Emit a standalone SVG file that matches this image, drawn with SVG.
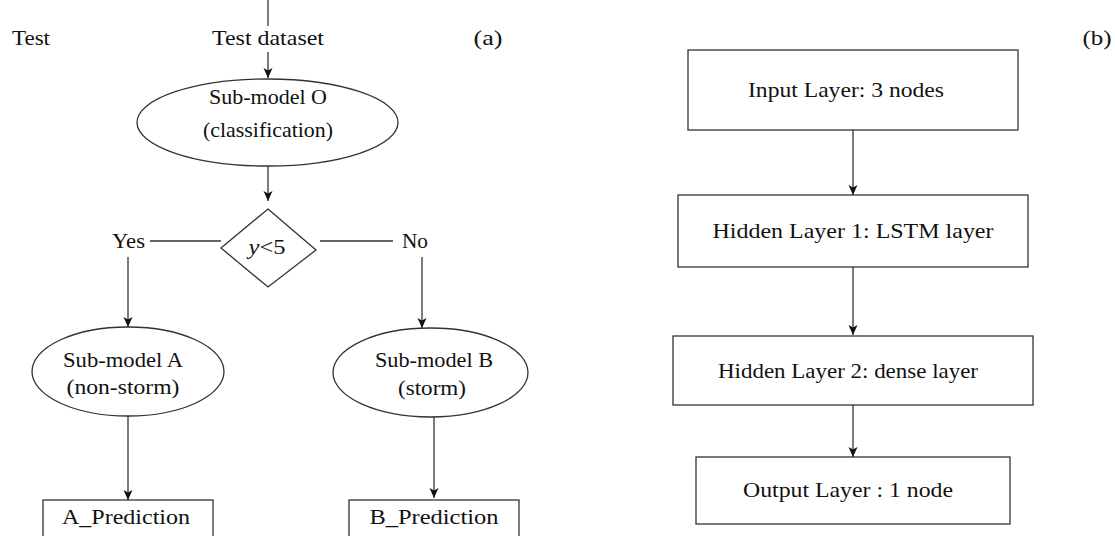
<svg xmlns="http://www.w3.org/2000/svg" width="1115" height="536" viewBox="0 0 1115 536">
<defs>
<marker id="arr" viewBox="0 0 10 10" refX="10" refY="5" markerWidth="10" markerHeight="10" markerUnits="userSpaceOnUse" orient="auto">
<path d="M0,0.5 L10,5 L0,9.5 L2.5,5 Z" fill="#111"/>
</marker>
<style>
.s{fill:none;stroke:#333;stroke-width:1.3}
.n{fill:#fff;stroke:#333;stroke-width:1.3}
.t{font-family:"Liberation Serif","Times New Roman",serif;font-size:21px;fill:#111;text-anchor:middle}
.r{font-family:"Liberation Serif","Times New Roman",serif;font-size:22px;fill:#111;text-anchor:middle}
.a{stroke:#333;stroke-width:1.3;fill:none;marker-end:url(#arr)}
</style>
</defs>
<rect width="1115" height="536" fill="#fff"/>
<g id="labels">
<text class="t" x="31" y="45" textLength="38" lengthAdjust="spacingAndGlyphs">Test</text>
<text class="t" x="268" y="45" textLength="112" lengthAdjust="spacingAndGlyphs">Test dataset</text>
<text class="t" x="488" y="45" textLength="29" lengthAdjust="spacingAndGlyphs">(a)</text>
<text class="t" x="1097" y="45" textLength="29" lengthAdjust="spacingAndGlyphs">(b)</text>
</g>
<g id="connectors">
<line class="s" x1="268" y1="0" x2="268" y2="26"/>
<line class="a" x1="268" y1="52" x2="268" y2="78"/>
<line class="a" x1="268" y1="166" x2="268" y2="201"/>
<line class="s" x1="150" y1="241" x2="221" y2="241"/>
<line class="s" x1="320" y1="241" x2="393" y2="241"/>
<line class="a" x1="128" y1="257" x2="128" y2="327"/>
<line class="a" x1="422" y1="257" x2="422" y2="328"/>
<line class="a" x1="128" y1="416" x2="128" y2="500"/>
<line class="a" x1="434" y1="417" x2="434" y2="498"/>
<line class="a" x1="853" y1="130" x2="853" y2="195"/>
<line class="a" x1="853" y1="267" x2="853" y2="335"/>
<line class="a" x1="853" y1="405" x2="853" y2="457"/>
<text class="t" x="128.5" y="248" textLength="33" lengthAdjust="spacingAndGlyphs">Yes</text>
<text class="t" x="415" y="248" textLength="26" lengthAdjust="spacingAndGlyphs">No</text>
</g>
<g id="nodeO">
<ellipse class="n" cx="267.5" cy="122.5" rx="130.5" ry="43.5"/>
<text class="t" x="268" y="104" textLength="118" lengthAdjust="spacingAndGlyphs">Sub-model O</text>
<text class="t" x="268" y="137" textLength="130" lengthAdjust="spacingAndGlyphs">(classification)</text>
</g>
<g id="decision">
<polygon class="n" points="268,209 316,250 268,287 221,248"/>
<text class="t" x="267" y="254" textLength="37" lengthAdjust="spacingAndGlyphs"><tspan font-style="italic">y</tspan>&lt;5</text>
</g>
<g id="nodeA">
<ellipse class="n" cx="128" cy="371.5" rx="96" ry="44.5"/>
<text class="t" x="123" y="367" textLength="120" lengthAdjust="spacingAndGlyphs">Sub-model A</text>
<text class="t" x="123" y="394" textLength="113" lengthAdjust="spacingAndGlyphs">(non-storm)</text>
</g>
<g id="nodeB">
<ellipse class="n" cx="430.5" cy="372.5" rx="97.5" ry="44.5"/>
<text class="t" x="434" y="367" textLength="118" lengthAdjust="spacingAndGlyphs">Sub-model B</text>
<text class="t" x="432" y="395" textLength="68" lengthAdjust="spacingAndGlyphs">(storm)</text>
</g>
<g id="predA">
<rect class="n" x="43" y="500" width="170" height="45"/>
<text class="t" x="126" y="524" textLength="128" lengthAdjust="spacingAndGlyphs">A_Prediction</text>
</g>
<g id="predB">
<rect class="n" x="349" y="500" width="170" height="45"/>
<text class="t" x="434" y="524" textLength="129" lengthAdjust="spacingAndGlyphs">B_Prediction</text>
</g>
<g id="input">
<rect class="n" x="688" y="50" width="330" height="80"/>
<text class="r" x="846" y="97" textLength="196" lengthAdjust="spacingAndGlyphs">Input Layer: 3 nodes</text>
</g>
<g id="hidden1">
<rect class="n" x="678" y="195" width="350" height="72"/>
<text class="r" x="853" y="238" textLength="281" lengthAdjust="spacingAndGlyphs">Hidden Layer 1: LSTM layer</text>
</g>
<g id="hidden2">
<rect class="n" x="673" y="336" width="360" height="69"/>
<text class="r" x="848" y="378" textLength="260" lengthAdjust="spacingAndGlyphs">Hidden Layer 2: dense layer</text>
</g>
<g id="output">
<rect class="n" x="696" y="457" width="314" height="67"/>
<text class="r" x="848" y="497" textLength="210" lengthAdjust="spacingAndGlyphs">Output Layer : 1 node</text>
</g>
</svg>
